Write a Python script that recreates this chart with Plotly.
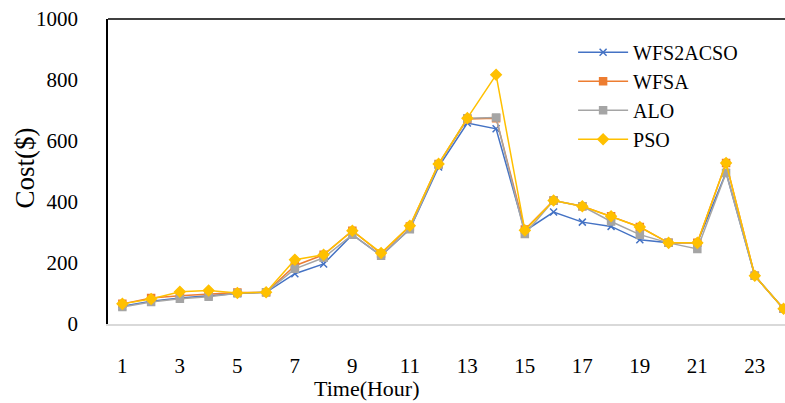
import plotly.graph_objects as go

hours = list(range(1, 25))
tick_hours = [1, 3, 5, 7, 9, 11, 13, 15, 17, 19, 21, 23]
y_ticks = [0, 200, 400, 600, 800, 1000]

wfs2acso = [58, 75, 85, 92, 100, 104, 165, 197, 293, 224, 311, 515,
            659, 640, 305, 367, 334, 320, 276, 266, 266, 497, 158, 50]
wfsa = [66, 85, 93, 98, 103, 104, 191, 227, 306, 231, 320, 525,
        672, 675, 310, 405, 386, 353, 318, 266, 266, 528, 158, 50]
alo = [56, 72, 83, 89, 101, 104, 181, 217, 293, 224, 311, 522,
       675, 677, 295, 405, 386, 336, 293, 266, 246, 495, 158, 50]
pso = [66, 82, 106, 110, 102, 104, 211, 227, 306, 233, 322, 525,
       675, 817, 307, 405, 386, 353, 318, 266, 266, 528, 158, 50]

FONT = "Liberation Serif"

series = [
    ("WFS2ACSO", wfs2acso, "#4472C4", "x-thin", 7),
    ("WFSA", wfsa, "#ED7D31", "square", 7),
    ("ALO", alo, "#A5A5A5", "square", 7),
    ("PSO", pso, "#FFC000", "diamond", 8),
]

fig = go.Figure()
for name, vals, color, sym, size in series:
    fig.add_trace(go.Scatter(
        x=hours, y=vals, name=name, mode="lines+markers",
        line=dict(color=color, width=1.5),
        marker=dict(symbol=sym, size=size, color=color,
                    line=dict(color=color, width=1.5)),
        cliponaxis=False,
    ))

fig.update_layout(
    width=785, height=403,
    margin=dict(l=108, r=0, t=19, b=79, autoexpand=False),
    plot_bgcolor="white", paper_bgcolor="white",
    font=dict(family=FONT, size=21, color="black"),
    showlegend=True,
    legend=dict(x=0.687, y=0.955, xanchor="left", yanchor="top",
                font=dict(family=FONT, size=20), tracegroupgap=0,
                itemwidth=50, bgcolor="rgba(0,0,0,0)"),
    xaxis=dict(range=[0.5, 24.05], tickvals=tick_hours, showgrid=False,
               zeroline=False, showline=True, linecolor="#D9D9D9", linewidth=2,
               ticks="", ticklabelstandoff=22, automargin=False),
    yaxis=dict(range=[0, 1000], tickvals=y_ticks, showgrid=False,
               zeroline=False, showline=True, linecolor="black", linewidth=1.5,
               ticks="", ticklabelstandoff=24, automargin=False),
    shapes=[dict(type="line", xref="paper", yref="paper", x0=0, x1=1, y0=1, y1=1,
                 line=dict(color="black", width=1.5))],
    annotations=[
        dict(text="Time(Hour)", xref="paper", yref="paper", x=0.383, y=-0.21,
             xanchor="center", yanchor="middle", showarrow=False,
             font=dict(family=FONT, size=22)),
        dict(text="Cost($)", xref="paper", yref="paper", x=-0.0,
             xshift=-83, y=0.51, textangle=-90, xanchor="center",
             yanchor="middle", showarrow=False, font=dict(family=FONT, size=27)),
    ],
)

# drop the browser's default 8px body margin so the figure sits at 0,0
fig.write_html(
    "out.html",
    config={"displayModeBar": False},
    post_script="document.body.style.margin = '0';",
)
